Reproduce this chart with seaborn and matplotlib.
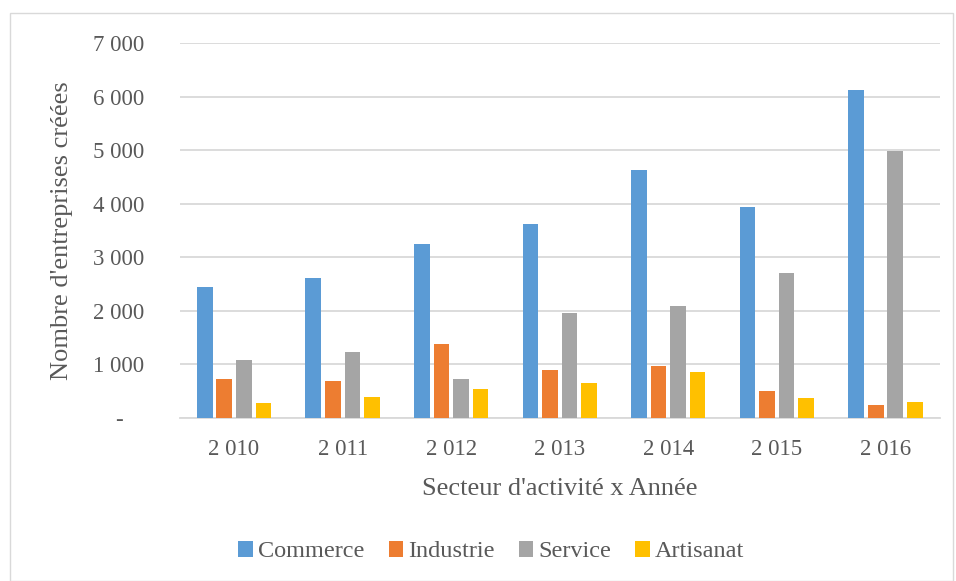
import numpy as np
import pandas as pd
import matplotlib.pyplot as plt
import matplotlib.ticker as mticker
from matplotlib.patches import Rectangle
import seaborn as sns

annees = ["2 010", "2 011", "2 012", "2 013", "2 014", "2 015", "2 016"]
secteurs = ["Commerce", "Industrie", "Service", "Artisanat"]
commerce = [2443, 2617, 3240, 3626, 4636, 3940, 6114]
industrie = [723, 697, 1389, 903, 972, 505, 237]
service = [1090, 1228, 723, 1968, 2088, 2713, 4976]
artisanat = [280, 387, 548, 654, 860, 370, 306]
couleurs = ["#5B9BD5", "#ED7D31", "#A5A5A5", "#FFC000"]

df = pd.DataFrame({"Annee": annees, "Commerce": commerce, "Industrie": industrie,
                   "Service": service, "Artisanat": artisanat})
df = df.melt(id_vars="Annee", var_name="Secteur", value_name="Nombre")

sns.set_style("white")
plt.rcParams['font.family'] = ['Liberation Serif', 'DejaVu Serif']
texte = "#595959"

fig = plt.figure(figsize=(9.56, 5.81), dpi=100)
ax = fig.add_axes([0.188, 0.2806, 0.795, 0.6454])

sns.barplot(data=df, x="Annee", y="Nombre", hue="Secteur", hue_order=secteurs,
            palette=couleurs, width=0.72, gap=0.2, edgecolor="none",
            saturation=1, ax=ax, zorder=3)

ax.set_ylim(0, 7000)
ax.set_yticks(np.arange(0, 7001, 1000))
ax.yaxis.set_major_formatter(mticker.FuncFormatter(
    lambda v, p: "-" if v == 0 else f"{int(v):,}".replace(",", " ")))
ax.grid(axis="y", color="#d9d9d9", linewidth=1.3, zorder=0)
for s in ["top", "right", "left"]:
    ax.spines[s].set_visible(False)
ax.spines["bottom"].set_color("#d9d9d9")
ax.spines["bottom"].set_linewidth(1.3)
ax.tick_params(axis="both", length=0, labelsize=16.5, labelcolor=texte)
ax.tick_params(axis="y", pad=44)
ax.tick_params(axis="x", pad=15)
for t in ax.get_yticklabels():
    t.set_horizontalalignment("center")

ax.set_xlabel("Secteur d'activité x Année", fontsize=19, color=texte, labelpad=13)
ax.set_ylabel("Nombre d'entreprises créées", fontsize=19, color=texte, labelpad=14)

ax.legend(loc="center", bbox_to_anchor=(0.41, -0.357), ncol=4, frameon=False,
          fontsize=17.5, labelcolor=texte, handlelength=0.6, handleheight=0.6,
          handletextpad=0.2, columnspacing=1.0)

fig.patches.append(Rectangle((10 / 956, 0.0), 943 / 956, 1 - 13 / 581,
                             transform=fig.transFigure, fill=False,
                             edgecolor="#d9d9d9", linewidth=1))

fig.savefig("out.png", dpi=100)
